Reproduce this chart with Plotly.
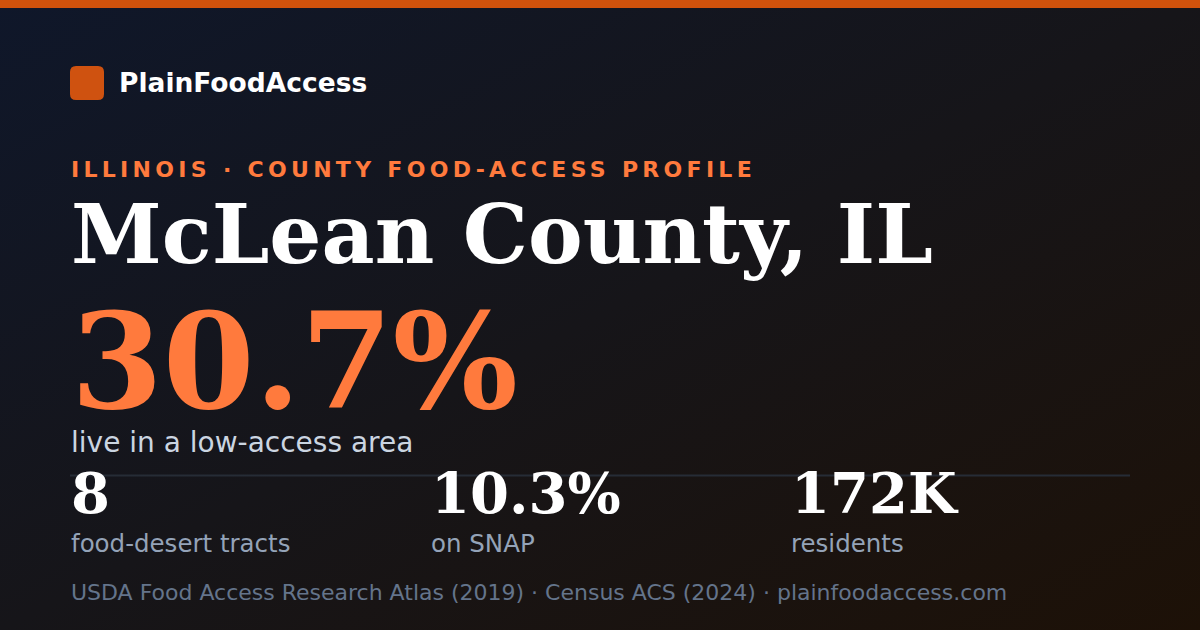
import base64
import plotly.graph_objects as go

# card content
brand = "PlainFoodAccess"
kicker = "ILLINOIS · COUNTY FOOD-ACCESS PROFILE"
county = "McLean County, IL"
headline_value = "30.7%"
headline_label = "live in a low-access area"
stat_values = ["8", "10.3%", "172K"]
stat_labels = ["food-desert tracts", "on SNAP", "residents"]
source_line = "USDA Food Access Research Atlas (2019) · Census ACS (2024) · plainfoodaccess.com"

W, H = 1200, 630
ORANGE = "#ff7a3d"
BAR = "#d0520c"
SANS = "DejaVu Sans"
SERIF = "DejaVu Serif"

# diagonal background gradient as an svg image
svg = (
    '<svg xmlns="http://www.w3.org/2000/svg" width="1200" height="630">'
    '<defs><linearGradient id="g" x1="0" y1="0" x2="1" y2="1">'
    '<stop offset="0" stop-color="#0f172a"/>'
    '<stop offset="0.5" stop-color="#161519"/>'
    '<stop offset="1" stop-color="#1d1107"/>'
    '</linearGradient></defs>'
    '<rect width="1200" height="630" fill="url(#g)"/></svg>'
)
bg_src = "data:image/svg+xml;base64," + base64.b64encode(svg.encode()).decode()

fig = go.Figure()
fig.add_trace(go.Scatter(x=[0, W], y=[0, H], mode="markers",
                         marker=dict(opacity=0), hoverinfo="skip", showlegend=False))


def txt(x, y, s, size, color, family=SANS, bold=False):
    if bold:
        s = "<b>" + s + "</b>"
    fig.add_annotation(x=x, y=y, xref="x", yref="y", text=s, showarrow=False,
                       xanchor="left", yanchor="middle", borderpad=0,
                       font=dict(size=size, color=color, family=family))


# y values are baselines, shifted to the text centre
def at_base(x, base, s, size, color, family=SANS, bold=False):
    txt(x, base - 0.35 * size, s, size, color, family, bold)


at_base(118, 92, brand, 26.5, "#ffffff", bold=True)
at_base(70, 177, '<span style="letter-spacing:4.3px">' + kicker + "</span>", 22, ORANGE, bold=True)
at_base(70, 263, county, 82, "#ffffff", SERIF, bold=True)
at_base(70, 408, headline_value, 132, ORANGE, SERIF, bold=True)
at_base(70, 452, headline_label, 28, "#cbd5e1")

xs = [70, 430, 790]
for x0, v, lab in zip(xs, stat_values, stat_labels):
    at_base(x0, 513, v, 56, "#ffffff", SERIF, bold=True)
    at_base(x0, 552, lab, 24.5, "#94a3b8")

at_base(70, 600, source_line, 22, "#64748b")

shapes = [
    dict(type="rect", x0=0, x1=W, y0=0, y1=8, fillcolor=BAR, line_width=0, layer="above"),
    dict(type="path", path="M 76 66 L 98 66 Q 104 66 104 72 L 104 94 Q 104 100 98 100 "
                           "L 76 100 Q 70 100 70 94 L 70 72 Q 70 66 76 66 Z",
         fillcolor="#cf5210", line_width=0),
    dict(type="line", x0=70, x1=1130, y0=475.5, y1=475.5, line=dict(color="#262c36", width=2),
         layer="below"),
]

fig.update_layout(
    width=W, height=H,
    margin=dict(l=0, r=0, t=0, b=0),
    paper_bgcolor="#141518", plot_bgcolor="rgba(0,0,0,0)",
    xaxis=dict(range=[0, W], visible=False, fixedrange=True),
    yaxis=dict(range=[H, 0], visible=False, fixedrange=True),
    shapes=shapes,
    images=[dict(source=bg_src, xref="paper", yref="paper", x=0, y=1, sizex=1, sizey=1,
                 sizing="stretch", xanchor="left", yanchor="top", layer="below")],
    showlegend=False,
)

fig.write_html("out.html", config={"displayModeBar": False},
               post_script="document.body.style.margin='0';document.body.style.overflow='hidden';")
